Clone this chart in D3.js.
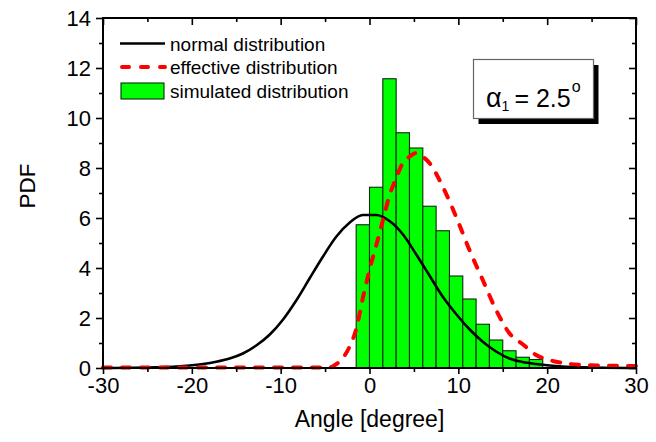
<!DOCTYPE html>
<html>
<head>
<meta charset="utf-8">
<script src="https://cdn.jsdelivr.net/npm/d3@7"></script>
<style>
  html, body { margin: 0; padding: 0; background: #fff; }
  svg { display: block; font-family: "Liberation Sans", Arial, sans-serif; }
</style>
</head>
<body>
<svg id="chart" width="656" height="442"></svg>
<script>
// Histogram of simulated angles (bin edges in degrees, PDF height per bin)
const binStarts = [-1.5, 0, 1.5, 3, 4.5, 6, 7.5, 9, 10.5, 12, 13.5, 15, 16.5, 18];
const binWidth = 1.5;
const simulatedPdf = [5.73, 7.23, 11.57, 9.41, 8.8, 6.47, 5.49, 3.68, 2.76, 1.75, 1.12, 0.69, 0.43, 0.34];

// Normal distribution curve
const normalX = [-30, -24, -21.75, -20.25, -18.75, -17.25, -15.75, -14.25, -12.75, -11.25, -9.75, -8.25, -6.75, -5.25, -3.75, -2.25, -0.75, 0.75, 2.25, 3.75, 5.25, 6.75, 8.25, 9.75, 11.25, 12.75, 14.25, 15.75, 17.25, 18.75, 20.25, 21.75, 24, 30];
const normalY = [0.0, 0.03, 0.06, 0.1, 0.16, 0.25, 0.38, 0.58, 0.9, 1.33, 1.93, 2.7, 3.58, 4.45, 5.25, 5.81, 6.12, 6.12, 5.88, 5.35, 4.55, 3.7, 2.85, 2.16, 1.55, 1.05, 0.66, 0.38, 0.24, 0.16, 0.1, 0.06, 0.03, 0.0];

// Effective distribution curve
const effectiveX = [-30, -4.5, -3.75, -3, -2.25, -1.5, -0.75, 0, 0.75, 1.5, 2.25, 3, 3.75, 4.5, 5.25, 6, 6.75, 8.25, 9.75, 11.25, 12.75, 14.25, 15.75, 17.25, 18.75, 20.25, 21.75, 24, 27, 30];
const effectiveY = [0.02, 0.02, 0.15, 0.4, 0.85, 1.55, 2.8, 3.92, 4.9, 5.9, 6.9, 7.6, 8.2, 8.45, 8.6, 8.45, 8.2, 7.25, 6.05, 4.72, 3.52, 2.32, 1.39, 0.95, 0.52, 0.32, 0.2, 0.12, 0.09, 0.08];

// Axis ticks
const xTicks = [-30, -20, -10, 0, 10, 20, 30];
const xMinorTicks = [-25, -15, -5, 5, 15, 25];
const yTicks = [0, 2, 4, 6, 8, 10, 12, 14];
const yMinorTicks = [1, 3, 5, 7, 9, 11, 13];

const legendLabels = ["normal distribution", "effective distribution", "simulated distribution"];

const svg = d3.select("#chart");
const plot = { left: 103, right: 636, top: 18, bottom: 368 };

const x = d3.scaleLinear().domain([-30, 30]).range([plot.left, plot.right]);
const y = d3.scaleLinear().domain([0, 14]).range([plot.bottom, plot.top]);

// Bars
svg.append("g")
  .selectAll("rect")
  .data(binStarts.map((s, i) => ({ s, v: simulatedPdf[i] })))
  .join("rect")
  .attr("x", d => x(d.s))
  .attr("y", d => y(d.v))
  .attr("width", d => x(d.s + binWidth) - x(d.s))
  .attr("height", d => y(0) - y(d.v))
  .attr("fill", "#00ff00")
  .attr("stroke", "#0a2a0a")
  .attr("stroke-width", 1.1);

const line = d3.line().curve(d3.curveMonotoneX).x(d => x(d[0])).y(d => y(d[1]));

// Normal distribution (solid black)
svg.append("path")
  .datum(normalX.map((v, i) => [v, normalY[i]]))
  .attr("d", line)
  .attr("fill", "none")
  .attr("stroke", "#000")
  .attr("stroke-width", 2.6)
  .attr("stroke-linejoin", "round");

// Effective distribution (dashed red)
svg.append("path")
  .datum(effectiveX.map((v, i) => [v, effectiveY[i]]))
  .attr("d", line)
  .attr("fill", "none")
  .attr("stroke", "#ff0000")
  .attr("stroke-width", 4)
  .attr("stroke-linecap", "round")
  .attr("stroke-dasharray", "8,11");

// Axes
const fontTick = 22;
const plainNum = d => String(d);
const bottomAxis = d3.axisBottom(x).tickValues(xTicks).tickSize(6).tickPadding(3).tickFormat(plainNum);
const leftAxis = d3.axisLeft(y).tickValues(yTicks).tickSize(7).tickPadding(5).tickFormat(plainNum);

function styleAxis(g) {
  g.select(".domain").remove();
  g.selectAll(".tick line").attr("stroke", "#000").attr("stroke-width", 1.6);
  g.selectAll(".tick text").attr("font-size", fontTick).attr("fill", "#000")
    .attr("font-family", "'Liberation Sans', Arial, sans-serif");
}

svg.append("g").attr("transform", `translate(0,${plot.bottom})`).call(bottomAxis).call(styleAxis)
  .selectAll(".tick text").attr("dy", "0.74em");
svg.append("g").attr("transform", `translate(0,${plot.bottom})`)
  .call(d3.axisBottom(x).tickValues(xMinorTicks).tickSize(4).tickFormat(""))
  .call(styleAxis);

svg.append("g").attr("transform", `translate(${plot.left},0)`).call(leftAxis).call(styleAxis);
svg.append("g").attr("transform", `translate(${plot.left},0)`)
  .call(d3.axisLeft(y).tickValues(yMinorTicks).tickSize(4).tickFormat(""))
  .call(styleAxis);

// Mirrored ticks on top and right, pointing inward
svg.append("g").attr("transform", `translate(0,${plot.top})`)
  .call(d3.axisBottom(x).tickValues(xTicks).tickSize(7).tickFormat(""))
  .call(styleAxis);
svg.append("g").attr("transform", `translate(0,${plot.top})`)
  .call(d3.axisBottom(x).tickValues(xMinorTicks).tickSize(4).tickFormat(""))
  .call(styleAxis);
svg.append("g").attr("transform", `translate(${plot.right},0)`)
  .call(d3.axisLeft(y).tickValues(yTicks).tickSize(7).tickFormat(""))
  .call(styleAxis);
svg.append("g").attr("transform", `translate(${plot.right},0)`)
  .call(d3.axisLeft(y).tickValues(yMinorTicks).tickSize(4).tickFormat(""))
  .call(styleAxis);

// Frame
svg.append("rect")
  .attr("x", plot.left).attr("y", plot.top)
  .attr("width", plot.right - plot.left).attr("height", plot.bottom - plot.top)
  .attr("fill", "none").attr("stroke", "#000").attr("stroke-width", 2);

// Axis titles
svg.append("text")
  .attr("x", (plot.left + plot.right) / 2).attr("y", 427)
  .attr("text-anchor", "middle").attr("font-size", 23)
  .text("Angle [degree]");
svg.append("text")
  .attr("transform", "translate(35,186) rotate(-90)")
  .attr("text-anchor", "middle").attr("font-size", 22.5)
  .text("PDF");

// Legend
const lg = svg.append("g");
const rowY = [43.5, 67, 91];
lg.append("line").attr("x1", 120).attr("x2", 165).attr("y1", rowY[0]).attr("y2", rowY[0])
  .attr("stroke", "#000").attr("stroke-width", 2.6);
lg.append("line").attr("x1", 122).attr("x2", 165).attr("y1", rowY[1]).attr("y2", rowY[1])
  .attr("stroke", "#ff0000").attr("stroke-width", 4).attr("stroke-linecap", "round")
  .attr("stroke-dasharray", "7,12");
lg.append("rect").attr("x", 121).attr("y", 83).attr("width", 43).attr("height", 16)
  .attr("fill", "#00ff00").attr("stroke", "#0a2a0a").attr("stroke-width", 1.1);
lg.selectAll("text.lbl").data(legendLabels).join("text")
  .attr("class", "lbl")
  .attr("x", 170).attr("y", (d, i) => rowY[i] + 7)
  .attr("font-size", 19)
  .text(d => d);

// Parameter box with drop shadow
const bx = 473.5, by = 59.5, bw = 120, bh = 59;
svg.append("rect").attr("x", bx + 5).attr("y", by + 5.5).attr("width", bw).attr("height", bh).attr("fill", "#000");
svg.append("rect").attr("x", bx).attr("y", by).attr("width", bw).attr("height", bh)
  .attr("fill", "#fff").attr("stroke", "#666").attr("stroke-width", 1.2);
const label = svg.append("text").attr("y", 106.5).attr("font-size", 25);
label.append("tspan").attr("x", 486).attr("font-size", 27).text("α");
label.append("tspan").attr("font-size", 14).attr("dy", 4).text("1");
label.append("tspan").attr("dy", -4).attr("dx", 5).text("= 2.5");
label.append("tspan").attr("font-size", 16).attr("dy", -15).attr("dx", 1).text("o");
</script>
</body>
</html>
